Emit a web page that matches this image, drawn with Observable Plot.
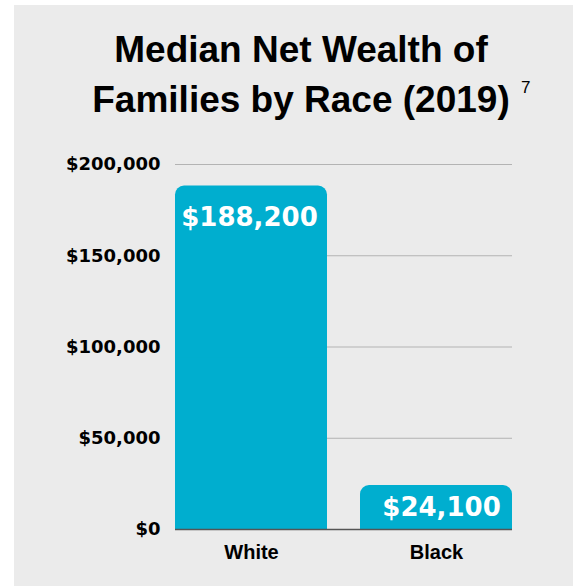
<!DOCTYPE html>
<html>
<head>
<meta charset="utf-8">
<script src="https://cdn.jsdelivr.net/npm/d3@7"></script>
<script src="https://cdn.jsdelivr.net/npm/@observablehq/plot@0.6"></script>
<style>
  html, body { margin: 0; padding: 0; background: #ffffff; overflow: hidden; }
  #wrap { position: relative; width: 579px; height: 586px; background: #ffffff; font-family: "Liberation Sans", Arial, Helvetica, sans-serif; }
  #panel { position: absolute; left: 14px; top: 5px; width: 559px; height: 581px; background: #ebebeb; }
  #title { position: absolute; left: 20px; top: 25px; width: 562px; text-align: center; font-size: 37px; line-height: 50px; font-weight: bold; color: #000; margin: 0; }
  #sup { position: absolute; left: 521px; top: 79px; font-size: 17px; line-height: 17px; color: #000; }
  #chart { position: absolute; left: 0; top: 140px; }
  #chart g[aria-label="y-axis tick label"] text { font-family: "DejaVu Sans", sans-serif; }
  #chart g[aria-label="text"] text { font-family: "DejaVu Sans", sans-serif; }
</style>
</head>
<body>
<div id="wrap">
  <div id="panel"></div>
  <div id="title">Median Net Wealth of<br>Families by Race (2019)</div>
  <div id="sup">7</div>
  <div id="chart"></div>
</div>
<script>
const categories = ["White", "Black"];
const values = [188200, 24100];
const valueLabels = ["$188,200", "$24,100"];
const yTicks = [0, 50000, 100000, 150000, 200000];
const yTickLabels = ["$0", "$50,000", "$100,000", "$150,000", "$200,000"];

const data = categories.map((c, i) => ({race: c, value: values[i], label: valueLabels[i]}));
const barColor = "#00aecf";

const chart = Plot.plot({
  width: 579,
  height: 446,
  marginLeft: 175,
  marginRight: 67,
  marginTop: 24,
  marginBottom: 57,
  style: {background: "transparent", fontFamily: "'Liberation Sans', Arial, Helvetica, sans-serif", color: "#000", overflow: "visible"},
  x: {domain: categories, paddingInner: 0.18, paddingOuter: 0, label: null},
  y: {domain: [0, 200000], label: null},
  marks: [
    Plot.gridY(yTicks, {stroke: "#b3b3b3", strokeOpacity: 1, strokeWidth: 1}),
    Plot.axisY(yTicks, {tickSize: 0, tickPadding: 15, tickFormat: d => yTickLabels[yTicks.indexOf(d)], fontSize: 18, fontWeight: "bold", fill: "#000", label: null}),
    Plot.axisX({tickSize: 0, tickPadding: 15, fontSize: 20, fontWeight: "bold", fill: "#000", label: null}),
    Plot.barY(data, {x: "race", y: "value", fill: barColor, rx: 9}),
    Plot.barY(data, {x: "race", y1: 0, y2: d => d.value / 2, fill: barColor}),
    Plot.ruleY([0], {stroke: "#555555", strokeWidth: 1.5}),
    Plot.text(data.filter(d => d.race === "White"), {x: "race", y: "value", text: "label", fill: "#ffffff", fontSize: 26, fontWeight: "bold", lineAnchor: "bottom", dy: 39.5, dx: -2}),
    Plot.text(data.filter(d => d.race === "Black"), {x: "race", y: "value", text: "label", fill: "#ffffff", fontSize: 26, fontWeight: "bold", lineAnchor: "bottom", dy: 30, dx: 5})
  ]
});
document.getElementById("chart").appendChild(chart);
</script>
</body>
</html>
